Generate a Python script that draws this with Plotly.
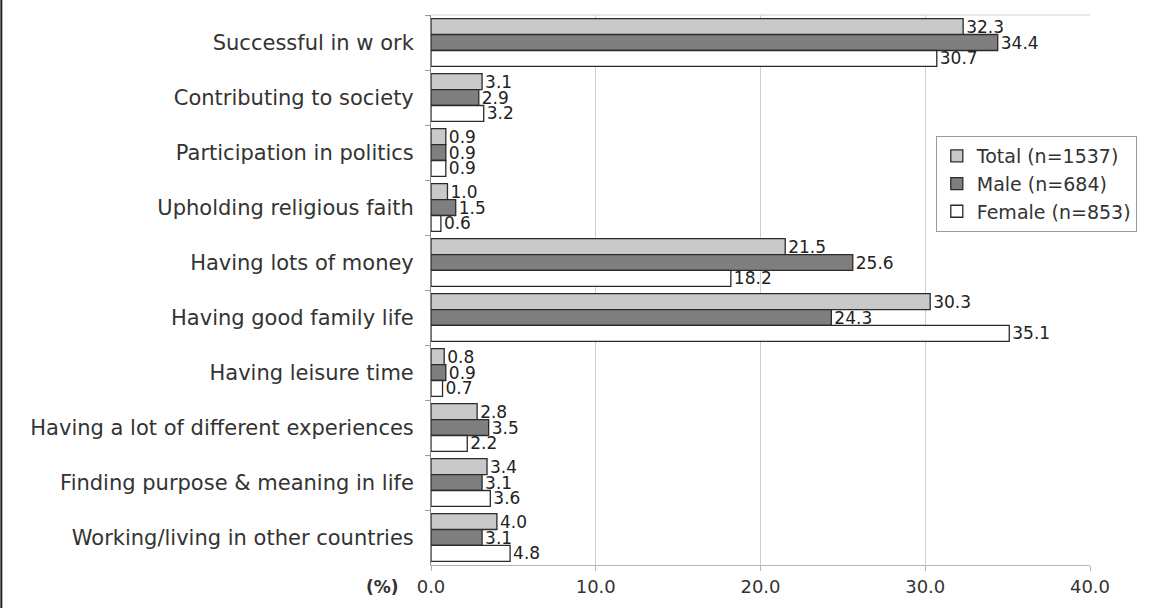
import plotly.graph_objects as go

categories = [
    "Successful in w ork",
    "Contributing to society",
    "Participation in politics",
    "Upholding religious faith",
    "Having lots of money",
    "Having good family life",
    "Having leisure time",
    "Having a lot of different experiences",
    "Finding purpose & meaning in life",
    "Working/living in other countries",
]
total = [32.3, 3.1, 0.9, 1.0, 21.5, 30.3, 0.8, 2.8, 3.4, 4.0]
male = [34.4, 2.9, 0.9, 1.5, 25.6, 24.3, 0.9, 3.5, 3.1, 3.1]
female = [30.7, 3.2, 0.9, 0.6, 18.2, 35.1, 0.7, 2.2, 3.6, 4.8]
series_names = ["Total (n=1537)", "Male (n=684)", "Female (n=853)"]
x_ticks = [0, 10, 20, 30, 40]

FONT = "DejaVu Sans, Verdana, sans-serif"
TEXT = "#333333"
fills = ["#c9c9c9", "#7f7f7f", "#ffffff"]

fig = go.Figure()
for i, (name, vals, fill) in enumerate(zip(series_names, [total, male, female], fills)):
    fig.add_trace(go.Bar(
        y=categories, x=vals, name=name, orientation="h",
        legendgroup=f"g{i}",
        marker=dict(color=fill, line=dict(color="#2b2b2b", width=1.3)),
        text=vals, texttemplate="%{x:.1f}", textposition="outside",
        constraintext="none", cliponaxis=False,
        textfont=dict(family=FONT, size=17, color="#222222"),
    ))

fig.update_layout(
    width=1161, height=608,
    margin=dict(l=431, r=71, t=15, b=43),
    paper_bgcolor="white", plot_bgcolor="white",
    barmode="group", bargap=0.13, bargroupgap=0,
    font=dict(family=FONT, size=17, color=TEXT),
    showlegend=True,
    legend=dict(
        x=0.766, y=0.78, xanchor="left", yanchor="top",
        bgcolor="white", bordercolor="#9a9a9a", borderwidth=1,
        font=dict(family=FONT, size=19, color=TEXT),
        tracegroupgap=0, itemwidth=30,
    ),
    xaxis=dict(
        range=[0, 40], tickvals=x_ticks,
        ticktext=[f"{v:.1f}" for v in x_ticks],
        showgrid=True, gridcolor="#cfcfcf", gridwidth=1,
        zeroline=False, showline=True, linecolor="#b5b5b5",
        ticks="outside", ticklen=5, tickcolor="#b5b5b5",
        tickfont=dict(family=FONT, size=18, color=TEXT),
    ),
    yaxis=dict(
        autorange="reversed", showgrid=False, zeroline=False,
        showline=True, linecolor="#8a8a8a", linewidth=1,
        ticks="outside", tickson="boundaries", ticklen=5, tickcolor="#9a9a9a",
        ticklabelstandoff=12,
        tickfont=dict(family=FONT, size=21, color=TEXT),
    ),
)

# top edge of the plot frame
fig.add_shape(type="line", xref="paper", yref="paper", x0=0, x1=1, y0=1, y1=1,
              line=dict(color="#d0d0d0", width=1))
# outer border on the left of the page
fig.add_shape(type="line", xref="paper", yref="paper", x0=-0.652, x1=-0.652,
              y0=-0.08, y1=1.03, line=dict(color="#222222", width=2))

fig.add_annotation(text="<b>(%)</b>", xref="paper", yref="paper", x=-0.045, y=-0.0185,
                   xanchor="right", yanchor="top", showarrow=False,
                   font=dict(family=FONT, size=17, color=TEXT))

fig.write_html("out.html")
